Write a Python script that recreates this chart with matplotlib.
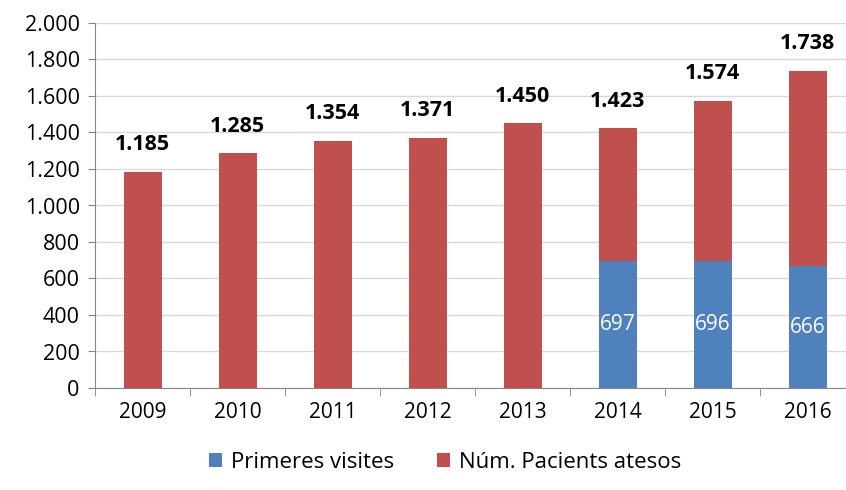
import numpy as np
import matplotlib.pyplot as plt

anys = ["2009", "2010", "2011", "2012", "2013", "2014", "2015", "2016"]
primeres = [0, 0, 0, 0, 0, 697, 696, 666]
totals = [1185, 1285, 1354, 1371, 1450, 1423, 1574, 1738]
atesos = [t - p for t, p in zip(totals, primeres)]

blau = "#4F81BD"
vermell = "#C0504D"


def punts(v):
    return f"{v:,}".replace(",", ".")


plt.rcParams["font.family"] = ["Open Sans", "DejaVu Sans"]

fig = plt.figure(figsize=(8.46, 4.9), dpi=100)
ax = fig.add_axes([95 / 846, 1 - 388 / 490, 760 / 846, (388 - 23) / 490])

x = np.arange(len(anys))
ax.bar(x, primeres, width=0.4, color=blau, label="Primeres visites", zorder=3)
ax.bar(x, atesos, width=0.4, bottom=primeres, color=vermell,
       label="Núm. Pacients atesos", zorder=3)

for i in range(len(anys)):
    ax.text(x[i], totals[i] + 90, punts(totals[i]), ha="center", va="bottom",
            fontsize=15.5, fontweight="bold")
    if primeres[i] > 0:
        ax.text(x[i], primeres[i] / 2, str(primeres[i]), ha="center", va="center",
                fontsize=15, color="white")

ax.set_xlim(-0.5, 7.5)
ax.set_ylim(0, 2000)
ax.set_yticks(range(0, 2001, 200))
ax.set_yticklabels([punts(v) for v in range(0, 2001, 200)], fontsize=15.5)
ax.set_xticks(x)
ax.set_xticklabels(anys, fontsize=15)
ax.set_xticks(np.arange(-0.5, 8, 1), minor=True)
ax.tick_params(axis="x", which="major", length=0, pad=10)
ax.tick_params(axis="x", which="minor", length=6, color="#868686")
ax.tick_params(axis="y", length=5, color="#868686", pad=6)
ax.yaxis.grid(True, color="#D9D9D9", linewidth=1, zorder=0)
for s in ["top", "right"]:
    ax.spines[s].set_visible(False)
ax.spines["left"].set_color("#868686")
ax.spines["bottom"].set_color("#868686")

fig.legend(loc="center", bbox_to_anchor=(445 / 846, 1 - 462 / 490), ncol=2,
           frameon=False, fontsize=16, handlelength=0.6, handleheight=0.6,
           columnspacing=1.9, handletextpad=0.4)

fig.savefig("out.png", dpi=100)
